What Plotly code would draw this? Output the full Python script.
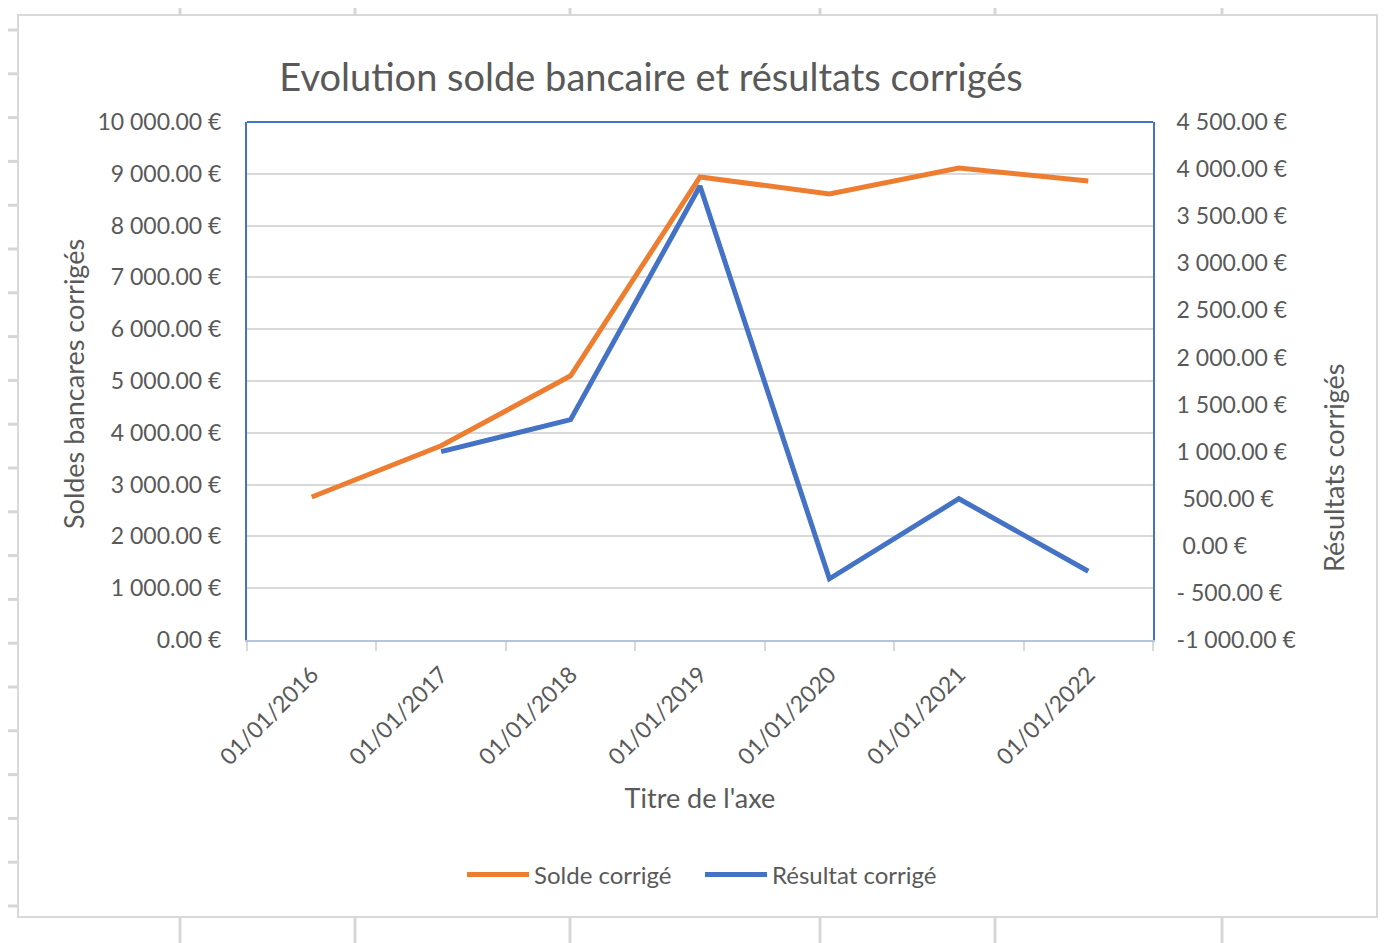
import plotly.graph_objects as go

# ---- data ----
dates = ["01/01/2016", "01/01/2017", "01/01/2018", "01/01/2019",
         "01/01/2020", "01/01/2021", "01/01/2022"]
solde_corrige = [2760, 3750, 5100, 8940, 8610, 9110, 8860]
resultat_corrige = [None, 1000, 1340, 3820, -350, 500, -270]

left_ticks = list(range(0, 10001, 1000))
left_ticktext = ["0.00 €", "1 000.00 €", "2 000.00 €", "3 000.00 €", "4 000.00 €",
                 "5 000.00 €", "6 000.00 €", "7 000.00 €", "8 000.00 €", "9 000.00 €",
                 "10 000.00 €"]
right_ticks = list(range(-1000, 4501, 500))
right_ticktext = ["-1 000.00 €", "- 500.00 €", "\u00a00.00 €", "\u00a0500.00 €",
                  "1 000.00 €", "1 500.00 €", "2 000.00 €", "2 500.00 €",
                  "3 000.00 €", "3 500.00 €", "4 000.00 €", "4 500.00 €"]

title_text = "Evolution solde bancaire et résultats corrigés"
left_title = "Soldes bancares corrigés"
right_title = "Résultats corrigés"
x_title = "Titre de l'axe"

# ---- layout geometry (screen pixels; page body adds an 8px offset) ----
OFF = 8
SW, SH = 1386, 943
W, H = SW - OFF, SH - OFF
PL, PR, PT, PB = 247, 1153, 122, 640
TXT = "#595959"
FONT = "Lato"


def px(x):
    return (x - PL) / (PR - PL)


def py(y):
    return (PB - y) / (PB - PT)


fig = go.Figure()
fig.add_trace(go.Scatter(x=dates, y=solde_corrige, name="Solde corrigé", mode="lines",
                         line=dict(color="#ED7D31", width=5), yaxis="y"))
fig.add_trace(go.Scatter(x=dates, y=resultat_corrige, name="Résultat corrigé", mode="lines",
                         line=dict(color="#4472C4", width=5), yaxis="y2",
                         connectgaps=False))

shapes = []
grid_col = "#d6d6d6"
# chart area border
shapes.append(dict(type="rect", xref="paper", yref="paper",
                   x0=px(18), x1=px(1377), y0=py(917), y1=py(15),
                   line=dict(color="#d9d9d9", width=2), layer="below"))
# spreadsheet grid outside chart
for cx in [180, 355, 570, 820, 995, 1222]:
    shapes.append(dict(type="line", xref="paper", yref="paper",
                       x0=px(cx), x1=px(cx), y0=py(0), y1=py(15),
                       line=dict(color=grid_col, width=3)))
    shapes.append(dict(type="line", xref="paper", yref="paper",
                       x0=px(cx), x1=px(cx), y0=py(917), y1=py(943),
                       line=dict(color=grid_col, width=3)))
for k in range(21):
    ry = 30 + 43.8 * k
    shapes.append(dict(type="line", xref="paper", yref="paper",
                       x0=px(5), x1=px(17), y0=py(ry), y1=py(ry),
                       line=dict(color=grid_col, width=3)))
    shapes.append(dict(type="line", xref="paper", yref="paper",
                       x0=px(1378), x1=px(1386), y0=py(ry), y1=py(ry),
                       line=dict(color=grid_col, width=3)))
# top border of plot area
shapes.append(dict(type="line", xref="paper", yref="paper",
                   x0=0, x1=1, y0=1, y1=1,
                   line=dict(color="#4472C4", width=2)))

annotations = [
    dict(text=left_title, textangle=-90, xref="paper", yref="paper",
         x=px(73), y=py(384), xanchor="center", yanchor="middle", showarrow=False,
         font=dict(family=FONT, size=27, color=TXT)),
    dict(text=right_title, textangle=-90, xref="paper", yref="paper",
         x=px(1333), y=py(468), xanchor="center", yanchor="middle", showarrow=False,
         font=dict(family=FONT, size=27, color=TXT)),
]

fig.update_layout(
    width=W, height=H,
    margin=dict(l=PL - OFF, r=SW - PR, t=PT - OFF, b=SH - PB),
    paper_bgcolor="white", plot_bgcolor="white",
    font=dict(family=FONT, size=23, color=TXT),
    title=dict(text=title_text, x=(651 - OFF) / W, xanchor="center",
               y=1 - (78 - OFF) / H, yanchor="middle", yref="container",
               font=dict(family=FONT, size=38, color=TXT)),
    showlegend=True,
    legend=dict(orientation="h", x=0.5, xanchor="center", xref="paper",
                y=py(875), yanchor="middle", yref="paper",
                font=dict(family=FONT, size=24, color=TXT),
                bgcolor="rgba(0,0,0,0)", itemwidth=62, entrywidth=161),
    xaxis=dict(type="category", range=[-0.5, len(dates) - 0.5],
               tickson="boundaries", ticks="outside", ticklen=9,
               tickwidth=2, tickcolor="#d9d9d9", tickangle=-45,
               showgrid=False, showline=True, linecolor="#b4c3e0", linewidth=2,
               ticklabelstandoff=10,
               tickfont=dict(size=23, color=TXT),
               title=dict(text=x_title, standoff=20,
                          font=dict(size=27, color=TXT))),
    yaxis=dict(range=[0, 10000], tickvals=left_ticks, ticktext=left_ticktext,
               showgrid=True, gridcolor="#d9d9d9", gridwidth=2, zeroline=False,
               showline=True, linecolor="#4472C4", linewidth=2, ticks="",
               ticklabelstandoff=19, tickfont=dict(size=23, color=TXT)),
    yaxis2=dict(range=[-1000, 4500], tickvals=right_ticks, ticktext=right_ticktext,
                overlaying="y", side="right", showgrid=False, zeroline=False,
                showline=True, linecolor="#4472C4", linewidth=2, ticks="",
                ticklabelstandoff=17, tickfont=dict(size=23, color=TXT)),
    shapes=shapes,
    annotations=annotations,
)

fig.write_html("out.html")
